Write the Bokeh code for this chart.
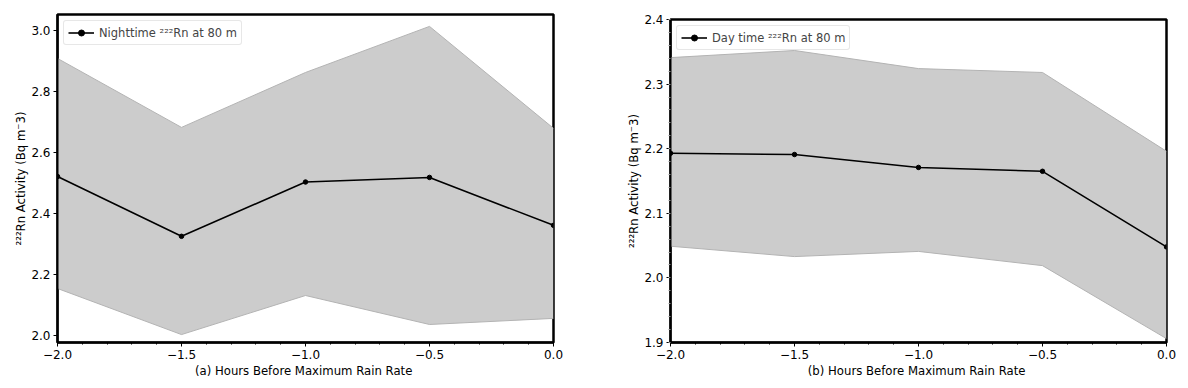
from bokeh.plotting import figure
from bokeh.layouts import row
from bokeh.models import Range1d, FixedTicker, CustomJSTickFormatter
from bokeh.embed import file_html
from bokeh.resources import INLINE

hours = [-2.0, -1.5, -1.0, -0.5, 0.0]

night_mean = [2.521, 2.325, 2.503, 2.518, 2.361]
night_upper = [2.908, 2.682, 2.862, 3.013, 2.679]
night_lower = [2.154, 2.003, 2.131, 2.036, 2.056]

day_mean = [2.193, 2.191, 2.171, 2.165, 2.048]
day_upper = [2.341, 2.352, 2.324, 2.318, 2.196]
day_lower = [2.049, 2.033, 2.041, 2.019, 1.906]

x_ticks = [-2.0, -1.5, -1.0, -0.5, 0.0]
night_yticks = [2.0, 2.2, 2.4, 2.6, 2.8, 3.0]
day_yticks = [1.9, 2.0, 2.1, 2.2, 2.3, 2.4]

FONT = "DejaVu Sans"


def fmt():
    return CustomJSTickFormatter(code="return tick.toFixed(1).replace('-', '\\u2212');")


def make_fig(mean, upper, lower, yrange, yticks, yminor, label, xlabel, width, height,
             border_left, border_right, border_top, border_bottom):
    p = figure(width=width, height=height, output_backend="svg", toolbar_location=None,
               x_range=Range1d(-2.0, 0.0), y_range=Range1d(*yrange),
               min_border_left=border_left, min_border_right=border_right,
               min_border_top=border_top, min_border_bottom=border_bottom,
               frame_align=False)
    p.grid.visible = False
    p.outline_line_color = "black"
    p.outline_line_width = 2.5
    p.background_fill_color = "white"
    p.border_fill_color = "white"

    p.varea(x=hours, y1=lower, y2=upper, fill_color="#cccccc", fill_alpha=1.0)
    p.line(hours, upper, line_color="#b3b3b3", line_width=1)
    p.line(hours, lower, line_color="#b3b3b3", line_width=1)
    p.line(hours, mean, line_color="black", line_width=1.6, legend_label=label)
    p.scatter(hours, mean, size=4.5, color="black", legend_label=label)

    p.xaxis.ticker = FixedTicker(ticks=x_ticks,
                                 minor_ticks=[-2.0 + 0.1 * i for i in range(21)])
    p.yaxis.ticker = FixedTicker(ticks=yticks, minor_ticks=yminor)
    p.xaxis.formatter = fmt()
    p.yaxis.formatter = fmt()
    for ax in (p.xaxis[0], p.yaxis[0]):
        ax.axis_line_color = "black"
        ax.axis_line_width = 2
        ax.major_tick_line_color = "black"
        ax.minor_tick_line_color = "black"
        ax.major_tick_out = 4
        ax.major_tick_in = 0
        ax.minor_tick_out = 2
        ax.minor_tick_in = 0
        ax.major_label_text_font = FONT
        ax.major_label_text_font_size = "12px"
        ax.major_label_text_color = "black"
        ax.axis_label_text_font = FONT
        ax.axis_label_text_font_size = "11.7px"
        ax.axis_label_text_font_style = "normal"
        ax.axis_label_text_color = "black"
    p.yaxis.minor_tick_line_color = "#999999"
    p.xaxis.major_label_standoff = 3
    p.yaxis.major_label_standoff = 3
    p.xaxis.axis_label_standoff = 2
    p.yaxis.axis_label_standoff = 0
    p.xaxis.axis_label = xlabel
    p.yaxis.axis_label = "²²²Rn Activity (Bq m⁻3)"

    p.legend.location = "top_left"
    p.legend.margin = 6
    p.legend.padding = 4
    p.legend.spacing = 0
    p.legend.label_text_font = FONT
    p.legend.label_text_font_size = "11.5px"
    p.legend.label_height = 15
    p.legend.glyph_height = 15
    p.legend.glyph_width = 26
    p.legend.border_line_color = "#d0d0d0"
    p.legend.border_line_width = 1
    p.legend.border_radius = 3
    p.legend.background_fill_alpha = 0.9
    return p


day_minor = [1.9 + 0.02 * i for i in range(26)]

p1 = make_fig(night_mean, night_upper, night_lower, (1.977, 3.052), night_yticks, [],
              "Nighttime ²²²Rn at 80 m", "(a)  Hours Before Maximum Rain Rate",
              width=590, height=380, border_left=57, border_right=37,
              border_top=14, border_bottom=38)
p2 = make_fig(day_mean, day_upper, day_lower, (1.9, 2.4), day_yticks, day_minor,
              "Day time ²²²Rn at 80 m", "(b)  Hours Before Maximum Rain Rate",
              width=590, height=380, border_left=80, border_right=14,
              border_top=19, border_bottom=38)

layout = row(p1, p2, spacing=0)
open("out.html", "w").write(file_html(layout, INLINE))
